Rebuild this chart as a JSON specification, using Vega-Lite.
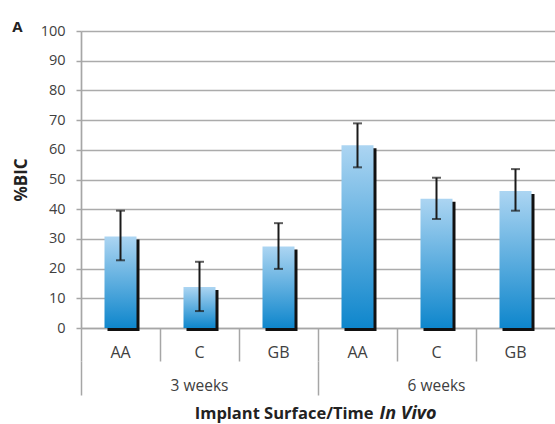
{
  "$schema": "https://vega.github.io/schema/vega-lite/v6.json",
  "width": 474,
  "height": 297,
  "autosize": {"type": "none"},
  "padding": {"left": 81, "top": 31, "right": 0, "bottom": 96},
  "background": "white",
  "title": {"text": "A", "anchor": "start", "dx": 0, "dy": 16, "offset": 4, "fontSize": 15, "fontWeight": "bold", "font": "Open Sans", "color": "#222222"},
  "config": {"view": {"stroke": null}},
  "data": {
    "values": [
      {"key": "3 weeks AA", "week": "3 weeks", "surface": "AA", "value": 30.8, "lo": 22.8, "hi": 39.5},
      {"key": "3 weeks C", "week": "3 weeks", "surface": "C", "value": 13.8, "lo": 5.7, "hi": 22.3},
      {"key": "3 weeks GB", "week": "3 weeks", "surface": "GB", "value": 27.4, "lo": 19.9, "hi": 35.3},
      {"key": "6 weeks AA", "week": "6 weeks", "surface": "AA", "value": 61.5, "lo": 54.1, "hi": 68.9},
      {"key": "6 weeks C", "week": "6 weeks", "surface": "C", "value": 43.5, "lo": 36.7, "hi": 50.6},
      {"key": "6 weeks GB", "week": "6 weeks", "surface": "GB", "value": 46.1, "lo": 39.5, "hi": 53.5}
    ]
  },
  "layer": [
    {
      "encoding": {
        "x": {
          "field": "key", "type": "nominal", "sort": null,
          "scale": {"paddingInner": 0, "paddingOuter": 0},
          "axis": {
            "labelExpr": "split(datum.value, ' ')[2]",
            "labelAngle": 0, "bandPosition": 0,
            "domainColor": "#a6a6a6", "domainWidth": 1.5,
            "tickColor": "#a6a6a6", "tickWidth": 1.5, "tickSize": 33,
            "labelPadding": -9, "labelBaseline": "middle",
            "labelFont": "Open Sans", "labelFontSize": 16, "labelColor": "#404040",
            "title": "In Vivo", "titleFont": "Open Sans", "titleFontSize": 18, "titleFontWeight": "bold", "titleFontStyle": "italic", "titleColor": "#222222",
            "titleX": 298, "titleY": 85, "titleAlign": "left", "titleBaseline": "middle"
          }
        }
      },
      "layer": [
        {
          "mark": {"type": "bar", "size": 32, "xOffset": 3, "yOffset": 3, "y2Offset": 0, "color": "#111111"},
          "encoding": {
            "y": {
              "field": "value", "type": "quantitative",
              "scale": {"domain": [0, 100], "nice": false},
              "axis": {
                "tickCount": 10,
                "grid": true, "gridColor": "#ababab", "gridWidth": 1.7,
                "domainColor": "#a6a6a6", "domainWidth": 1.7,
                "tickColor": "#a6a6a6", "tickWidth": 1.5, "tickSize": 5,
                "labelFont": "Open Sans", "labelFontSize": 14.5, "labelColor": "#404040", "labelPadding": 11,
                "title": "%BIC", "titleFont": "Open Sans", "titleFontSize": 17, "titleFontWeight": "bold", "titleColor": "#222222", "titlePadding": 10
              }
            }
          }
        },
        {
          "mark": {
            "type": "bar", "size": 32,
            "color": {"gradient": "linear", "x1": 0, "y1": 0, "x2": 0, "y2": 1,
              "stops": [{"offset": 0, "color": "#acd5f2"}, {"offset": 1, "color": "#0e86cc"}]}
          },
          "encoding": {"y": {"field": "value", "type": "quantitative"}}
        },
        {
          "mark": {"type": "rule", "strokeWidth": 2, "color": "#1a1a1a"},
          "encoding": {"y": {"field": "lo", "type": "quantitative"}, "y2": {"field": "hi"}}
        },
        {
          "mark": {"type": "tick", "size": 9, "thickness": 2, "color": "#1a1a1a"},
          "encoding": {"y": {"field": "hi", "type": "quantitative"}}
        },
        {
          "mark": {"type": "tick", "size": 9, "thickness": 2, "color": "#1a1a1a"},
          "encoding": {"y": {"field": "lo", "type": "quantitative"}}
        }
      ]
    },
    {
      "mark": {"type": "tick", "opacity": 0},
      "encoding": {
        "x": {
          "field": "week", "type": "nominal", "sort": null,
          "scale": {"paddingInner": 0, "paddingOuter": 0},
          "axis": {
            "orient": "bottom", "offset": 33, "domain": false, "labelAngle": 0, "bandPosition": 0,
            "tickColor": "#a6a6a6", "tickWidth": 1.5, "tickSize": 34,
            "labelPadding": -10, "labelBaseline": "middle",
            "labelFont": "Open Sans", "labelFontSize": 15.5, "labelColor": "#404040",
            "title": "Implant Surface/Time", "titleFont": "Open Sans", "titleFontSize": 16.5, "titleFontWeight": "bold", "titleColor": "#222222",
            "titleX": 292, "titleY": 52, "titleAlign": "right", "titleBaseline": "middle"
          }
        },
        "y": {
          "field": "value", "type": "quantitative",
          "axis": {
            "tickCount": 10,
            "grid": true, "gridColor": "#ababab", "gridWidth": 1.7,
            "domainColor": "#a6a6a6", "domainWidth": 1.7,
            "tickColor": "#a6a6a6", "tickWidth": 1.5, "tickSize": 5,
            "labelFont": "Open Sans", "labelFontSize": 14.5, "labelColor": "#404040", "labelPadding": 11,
            "title": "%BIC", "titleFont": "Open Sans", "titleFontSize": 17, "titleFontWeight": "bold", "titleColor": "#222222", "titlePadding": 10
          }
        }
      }
    }
  ],
  "resolve": {"scale": {"x": "independent"}}
}
